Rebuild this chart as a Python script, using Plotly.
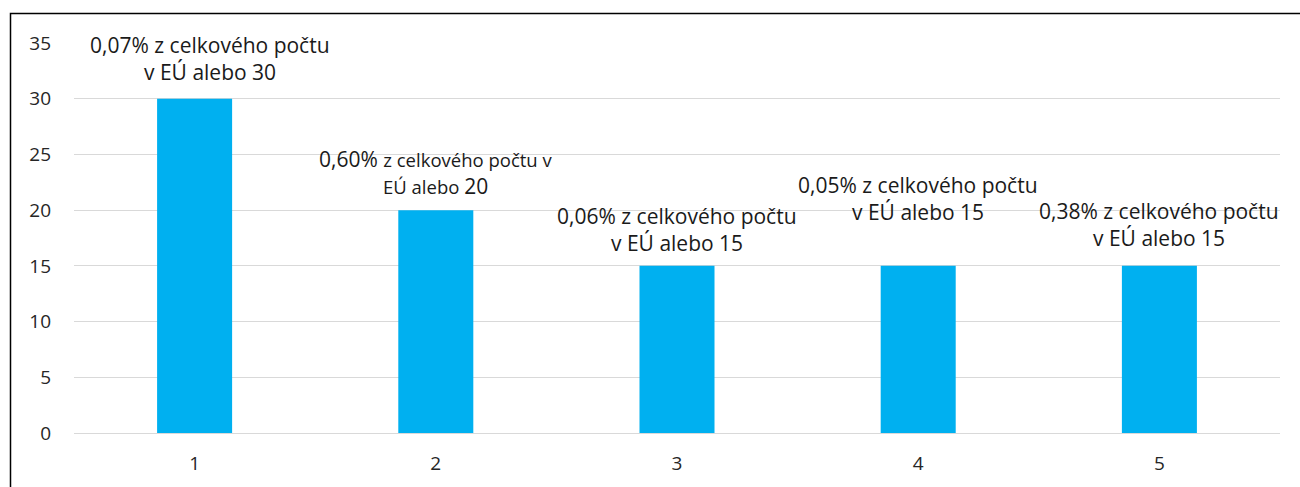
import plotly.graph_objects as go

categories = [1, 2, 3, 4, 5]
values = [30, 20, 15, 15, 15]
small = '<span style="font-size:18.5px">{}</span>'
label_lines = [
    ["0,07% z celkového počtu", "v EÚ alebo 30"],
    ["0,60% " + small.format("z celkového počtu v"), small.format("EÚ alebo ") + "20"],
    ["0,06% z celkového počtu", "v EÚ alebo 15"],
    ["0,05% z celkového počtu", "v EÚ alebo 15"],
    ["0,38% z celkového počtu", "v EÚ alebo 15"],
]
y_ticks = [0, 5, 10, 15, 20, 25, 30, 35]

label_center_shift = [40, 38, 36, 67, 41]
label_x_shift = [15, 0, 0, 0, 0]
line_gap = 27

FONT = "Open Sans"
fig = go.Figure(go.Bar(
    x=categories, y=values, marker=dict(color="#00B0F0", line=dict(width=0)),
    hoverinfo="skip",
))

annotations = []
for i, (cat, val, lines) in enumerate(zip(categories, values, label_lines)):
    n = len(lines)
    for j, line in enumerate(lines):
        annotations.append(dict(
            x=cat, y=val, xref="x", yref="y", text=line, showarrow=False,
            xanchor="center", yanchor="middle",
            xshift=label_x_shift[i],
            yshift=label_center_shift[i] + ((n - 1) / 2 - j) * line_gap,
            font=dict(family=FONT, size=21, color="#1a1a1a"),
        ))

fig.update_layout(
    width=1300, height=487,
    margin=dict(l=74, r=20, t=43, b=54),
    paper_bgcolor="white", plot_bgcolor="white",
    bargap=0.689, showlegend=False,
    annotations=annotations,
    font=dict(family=FONT, size=19, color="#262626"),
    shapes=[dict(type="rect", xref="paper", yref="paper",
                 x0=(10.5 - 74) / 1206, x1=1.05, y0=-0.3, y1=(433 - 13.5) / 390,
                 line=dict(color="black", width=1.5), fillcolor="rgba(0,0,0,0)", layer="above")],
)
fig.update_xaxes(range=[0.5, 5.5], tickvals=categories, ticktext=[str(c) for c in categories],
                 showgrid=False, showline=False, zeroline=False,
                 ticks="", ticklabelstandoff=17,
                 tickfont=dict(family=FONT, size=19, color="#262626"))
fig.update_yaxes(range=[0, 35], tickvals=y_ticks, showgrid=True, gridcolor="#D9D9D9",
                 gridwidth=1.3, zeroline=True, zerolinecolor="#D9D9D9", zerolinewidth=1.3,
                 showline=False, ticks="", ticklabelstandoff=22,
                 tickfont=dict(family=FONT, size=19, color="#262626"))

fig.write_html("out.html", config={"displayModeBar": False},
               post_script="document.body.style.margin='0';document.body.style.overflow='hidden';")
